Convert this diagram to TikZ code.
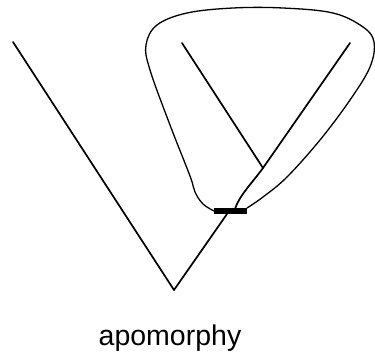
\documentclass[tikz,border=0pt]{standalone}
\usepackage{fontspec}
\setmainfont{Liberation Sans}
\usepackage{tikz}
\usetikzlibrary{positioning}

\tikzset{
  branch/.style={line width=1.7pt, line cap=round, line join=round},
  clade/.style={line width=1.3pt},
  apobar/.style={line width=6.5pt}
}

\begin{document}
\begin{tikzpicture}[x=1pt, y=-1pt]
  \useasboundingbox (0,0) rectangle (375,362);
  % tree points
  \coordinate (root)  at (174,290);
  \coordinate (tipA)  at (13,42);
  \coordinate (stem)  at (227,214);
  \coordinate (inner) at (263,168);
  \coordinate (tipB)  at (182,43);
  \coordinate (tipC)  at (350,43);
  \coordinate (barL)  at (214,211);
  \coordinate (barR)  at (247,211);
  % branches
  \draw[branch] (root) -- (tipA);
  \draw[branch] (root) -- (stem);
  \draw[branch] (235,209) .. controls (239,196) and (252,183) .. (inner);
  \draw[branch] (inner) -- (tipB);
  \draw[branch] (inner) -- (tipC);
  % apomorphy bar
  \draw[apobar] (barL) -- (barR);
  % loop round the clade
  \draw[clade] plot[smooth, tension=0.6] coordinates {
    (barL) (203,204) (195,192) (190,176) (170,125) (150,70) (146,45) (157,25)
    (187,13) (233,8) (283,8) (333,13) (363,27) (374,42) (370,67)
    (350,100) (320,140) (287,177) (263,197) (247,208)};
  % label
  \node[font=\fontsize{28.5}{30}\selectfont, inner sep=0pt] (apo) at (170,338) {apomorphy};
\end{tikzpicture}
\end{document}
